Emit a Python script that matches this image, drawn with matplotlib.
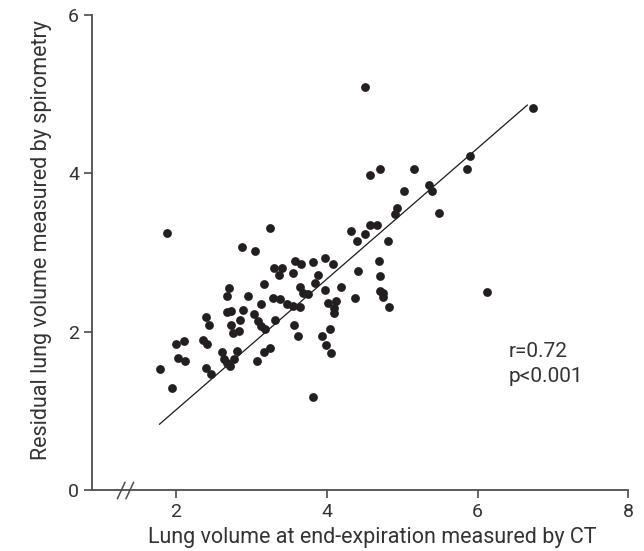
import matplotlib

matplotlib.use("Agg")
import matplotlib.pyplot as plt

# Lung volume at end-expiration (CT) vs residual volume (spirometry), in L
ct_volume = [
    1.88, 3.25, 2.87, 3.05, 3.58, 3.30, 3.41, 3.37, 3.55, 3.66,
    3.16, 2.70, 2.67, 2.96, 3.29, 3.38, 3.64, 3.12, 3.47, 3.55,
    3.64, 2.39, 2.43, 2.68, 2.73, 2.89, 3.04, 3.08, 3.12, 3.18,
    3.31, 2.85, 2.73, 2.76, 2.83, 2.00, 2.10, 2.36, 2.41, 3.56,
    3.62, 2.03, 2.12, 2.61, 2.81, 2.63, 2.68, 2.72, 2.77, 3.16,
    3.24, 3.07, 2.39, 2.46, 1.78, 1.95, 5.03, 5.35, 5.40, 5.49,
    4.93, 4.90, 4.57, 4.66, 4.32, 4.50, 4.40, 4.81, 3.81, 3.97,
    4.08, 3.88, 4.69, 4.41, 4.70, 3.84, 3.69, 3.75, 3.98, 4.19,
    4.71, 4.75, 4.74, 4.38, 4.12, 4.82, 4.02, 4.09, 4.10, 3.94,
    4.04, 3.99, 4.06, 3.82, 4.51, 6.74, 5.90, 5.86, 4.57, 4.70,
    5.16, 6.13,
]
spiro_volume = [
    3.24, 3.31, 3.07, 3.02, 2.89, 2.81, 2.80, 2.71, 2.74, 2.86,
    2.60, 2.55, 2.45, 2.45, 2.42, 2.41, 2.57, 2.35, 2.35, 2.32,
    2.31, 2.18, 2.08, 2.25, 2.26, 2.27, 2.22, 2.13, 2.07, 2.03,
    2.15, 2.15, 2.08, 1.98, 2.01, 1.85, 1.88, 1.90, 1.85, 2.08,
    1.94, 1.67, 1.63, 1.74, 1.76, 1.65, 1.60, 1.56, 1.65, 1.74,
    1.79, 1.63, 1.54, 1.47, 1.53, 1.29, 3.78, 3.85, 3.78, 3.50,
    3.56, 3.48, 3.35, 3.35, 3.27, 3.23, 3.15, 3.15, 2.88, 2.93,
    2.85, 2.71, 2.89, 2.77, 2.70, 2.61, 2.49, 2.48, 2.52, 2.57,
    2.51, 2.49, 2.44, 2.42, 2.39, 2.31, 2.36, 2.30, 2.23, 1.95,
    2.03, 1.83, 1.73, 1.17, 5.09, 4.83, 4.22, 4.06, 3.98, 4.05,
    4.05, 2.50,
]

# regression line
fit_slope = 0.826
fit_intercept = -0.639
fit_x = [1.78, 6.66]

x_ticks = [2, 4, 6, 8]
y_ticks = [0, 2, 4, 6]

font = "Roboto"
axis_color = "#4d4d4d"
text_color = "#333333"
dot_color = "#231f20"

fig = plt.figure(figsize=(6.44, 5.51), dpi=100)
ax = fig.add_axes([0.1424, 0.1107, 0.8332, 0.8621])

ax.scatter(ct_volume, spiro_volume, s=40, color=dot_color, linewidths=0, zorder=3)
fit_y = [fit_slope * v + fit_intercept for v in fit_x]
ax.plot(fit_x, fit_y, color="#1a1a1a", linewidth=0.9, zorder=2)

ax.set_xlim(0.88, 8.0)
ax.set_ylim(0, 6)
ax.set_xticks(x_ticks)
ax.set_yticks(y_ticks)

for side in ["top", "right"]:
    ax.spines[side].set_visible(False)
for side in ["left", "bottom"]:
    ax.spines[side].set_color(axis_color)
    ax.spines[side].set_linewidth(1.3)

ax.tick_params(axis="both", direction="out", length=6, width=1.2, color=axis_color,
               labelsize=14, labelcolor=text_color, pad=3)
for lbl in ax.get_xticklabels() + ax.get_yticklabels():
    lbl.set_fontfamily(font)

ax.set_xlabel("Lung volume at end-expiration measured by CT", fontsize=15.5,
              family=font, color=text_color, labelpad=5, x=0.523)
ax.set_ylabel("Residual lung volume measured by spirometry", fontsize=15.5,
              family=font, color=text_color, labelpad=12, y=0.526)

ax.text(6.41, 1.59, "r=0.72\np<0.001", fontsize=15, family=font, color=text_color,
        va="center", ha="left", linespacing=1.35)

# axis break marks on x axis
for dx in [0.0, 0.016]:
    ax.plot([0.048 + dx, 0.062 + dx], [-0.018, 0.016], transform=ax.transAxes,
            color=axis_color, linewidth=1.1, clip_on=False)

fig.savefig("out.png", dpi=100)
